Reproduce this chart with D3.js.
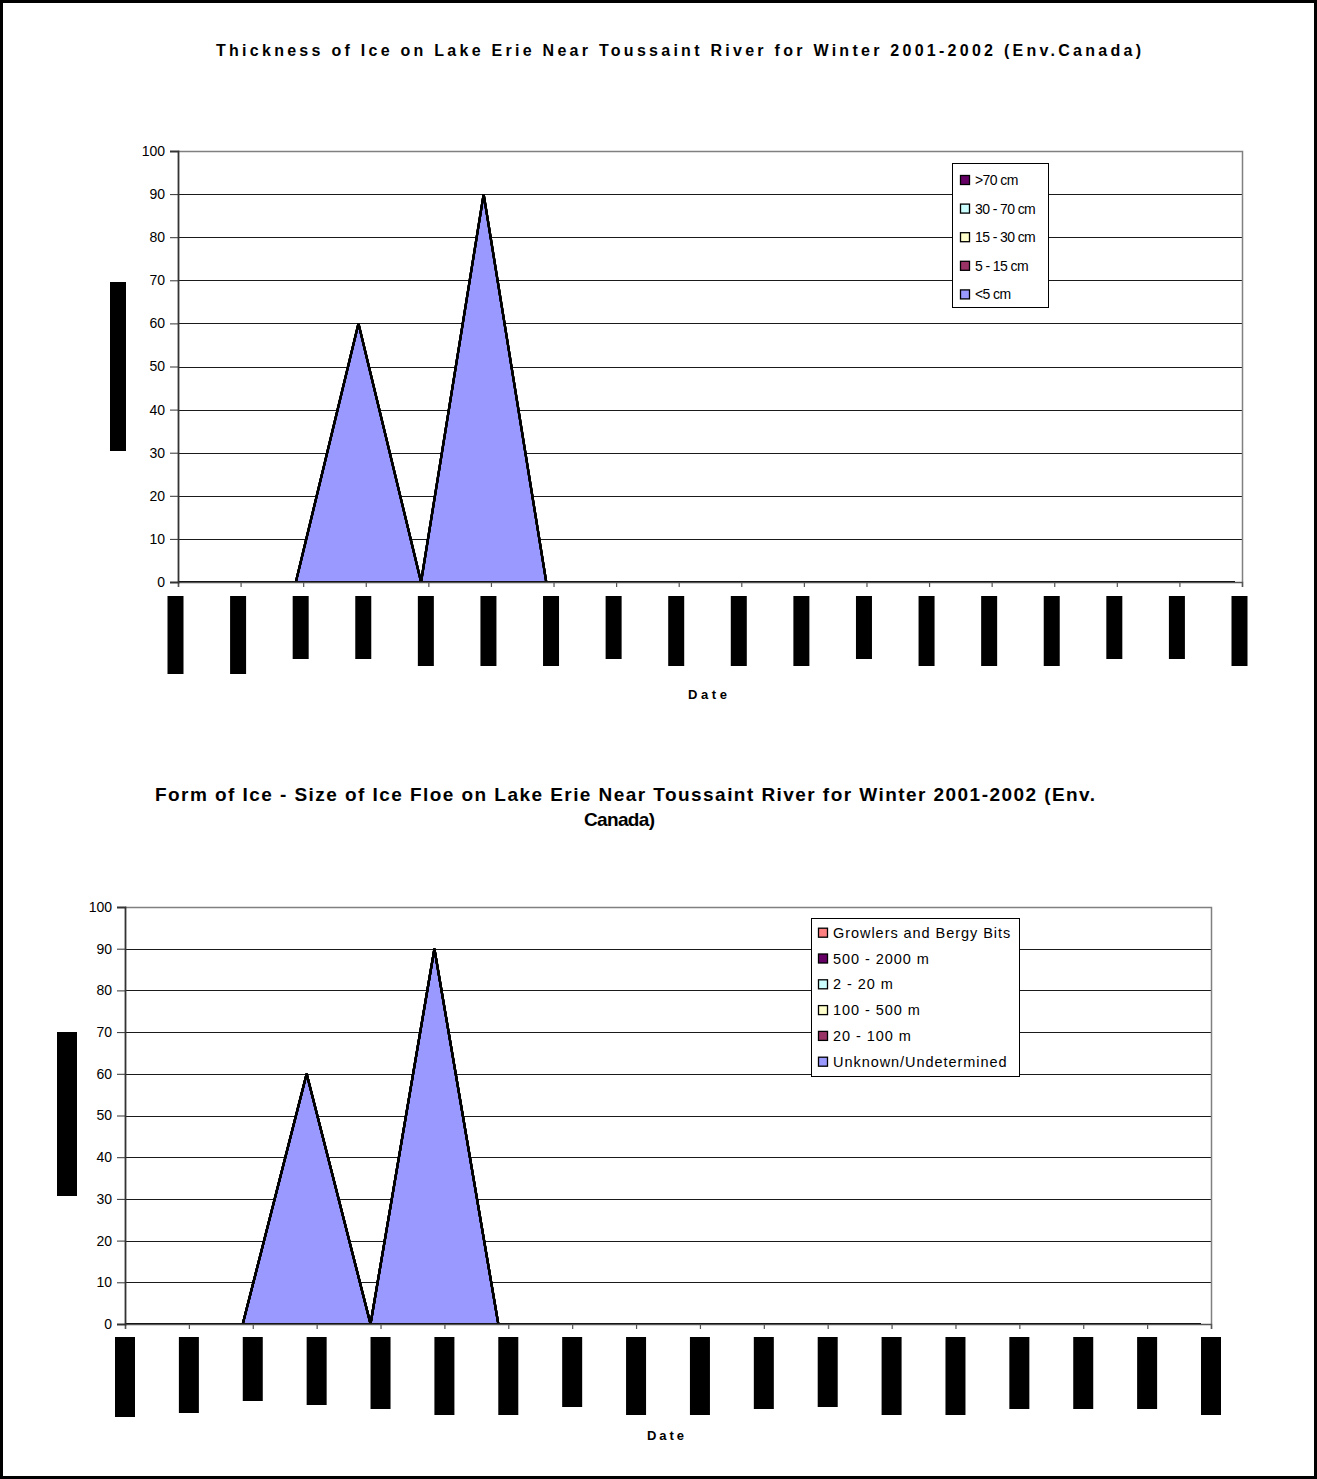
<!DOCTYPE html>
<html>
<head>
<meta charset="utf-8">
<script src="https://cdn.jsdelivr.net/npm/d3@7"></script>
<style>
  body { margin: 0; background: #fff; }
  svg { display: block; }
  text { font-family: "Liberation Sans", Arial, Helvetica, sans-serif; fill: #000; }
</style>
</head>
<body>
<svg id="page" width="1317" height="1479"></svg>
<script>
// ---------------- data ----------------
// 18 weekly observation dates (date labels are blanked out on the charts)
const observationIndex = [0,1,2,3,4,5,6,7,8,9,10,11,12,13,14,15,16,17];
const percentTicks = [0,10,20,30,40,50,60,70,80,90,100];

// Chart 1: ice thickness, stacked in series order (first = bottom)
const thicknessKeys = ["<5 cm", "5 - 15 cm", "15 - 30 cm", "30 - 70 cm", ">70 cm"];
const thicknessUnder5   = [0,0,0,60,0,90,0,0,0,0,0,0,0,0,0,0,0,0];
const thickness5to15    = [0,0,0,0,0,0,0,0,0,0,0,0,0,0,0,0,0,0];
const thickness15to30   = [0,0,0,0,0,0,0,0,0,0,0,0,0,0,0,0,0,0];
const thickness30to70   = [0,0,0,0,0,0,0,0,0,0,0,0,0,0,0,0,0,0];
const thicknessOver70   = [0,0,0,0,0,0,0,0,0,0,0,0,0,0,0,0,0,0];

// Chart 2: floe size, stacked in series order (first = bottom)
const floeKeys = ["Unknown/Undetermined", "20 - 100 m", "100 - 500 m", "2 - 20 m", "500 - 2000 m", "Growlers and Bergy Bits"];
const floeUnknown  = [0,0,0,60,0,90,0,0,0,0,0,0,0,0,0,0,0,0];
const floe20to100  = [0,0,0,0,0,0,0,0,0,0,0,0,0,0,0,0,0,0];
const floe100to500 = [0,0,0,0,0,0,0,0,0,0,0,0,0,0,0,0,0,0];
const floe2to20    = [0,0,0,0,0,0,0,0,0,0,0,0,0,0,0,0,0,0];
const floe500to2000= [0,0,0,0,0,0,0,0,0,0,0,0,0,0,0,0,0,0];
const floeGrowlers = [0,0,0,0,0,0,0,0,0,0,0,0,0,0,0,0,0,0];

const thicknessTitle = "Thickness of Ice on Lake Erie Near Toussaint River for Winter 2001-2002 (Env.Canada)";
const floeTitle1 = "Form of Ice - Size of Ice Floe on Lake Erie Near Toussaint River for Winter 2001-2002 (Env.";
const floeTitle2 = "Canada)";
const xTitle = "Date";

// ---------------- styles / layout ----------------
const seriesColor = {
  "<5 cm": "#9999FF", "5 - 15 cm": "#993366", "15 - 30 cm": "#FFFFCC",
  "30 - 70 cm": "#CCFFFF", ">70 cm": "#660066",
  "Unknown/Undetermined": "#9999FF", "20 - 100 m": "#993366", "100 - 500 m": "#FFFFCC",
  "2 - 20 m": "#CCFFFF", "500 - 2000 m": "#660066", "Growlers and Bergy Bits": "#FF8080"
};

// lower ends of the blanked date labels under each tick
const maskEnds1 = [674,674,659,659,666,666,666,659,666,666,666,659,666,666,666,659,659,666];
const maskEnds2 = [1417,1413,1401,1405,1409,1415,1415,1407,1415,1415,1409,1407,1415,1415,1409,1409,1409,1415];

const svg = d3.select("#page");
svg.append("rect").attr("width", 1317).attr("height", 1479).attr("fill", "#fff");

function buildRows(keys, arrays) {
  return observationIndex.map(i => {
    const row = { i };
    keys.forEach((k, j) => row[k] = arrays[j][i]);
    return row;
  });
}

function drawChart(cfg) {
  const g = svg.append("g");
  const x = d3.scalePoint().domain(observationIndex).range([cfg.left, cfg.right]);
  const y = d3.scaleLinear().domain([0, 100]).range([cfg.bottom, cfg.top]);
  const W = cfg.right - cfg.left, H = cfg.bottom - cfg.top;

  // gridlines
  g.append("g").selectAll("line").data(percentTicks.filter(t => t > 0 && t < 100)).join("line")
    .attr("x1", cfg.left).attr("x2", cfg.right)
    .attr("y1", d => Math.round(y(d)) + 0.5).attr("y2", d => Math.round(y(d)) + 0.5)
    .attr("stroke", "#1a1a1a").attr("stroke-width", 1);

  // plot area frame (top & right)
  g.append("path")
    .attr("d", `M${cfg.left},${Math.round(cfg.top)+0.5}H${cfg.right+0.5}V${cfg.bottom}`)
    .attr("fill", "none").attr("stroke", "#808080").attr("stroke-width", 1.5);

  // stacked areas
  const clipId = "clip" + cfg.id;
  svg.append("clipPath").attr("id", clipId).append("rect")
    .attr("x", cfg.left).attr("y", cfg.top - 5).attr("width", W).attr("height", H + 7);
  const stacked = d3.stack().keys(cfg.keys)(buildRows(cfg.keys, cfg.values));
  const area = d3.area()
    .x(d => x(d.data.i) + cfg.markShift)
    .y0(d => y(d[0])).y1(d => y(d[1]));
  g.append("g").attr("clip-path", `url(#${clipId})`)
    .selectAll("path").data(stacked).join("path")
    .attr("d", area)
    .attr("fill", d => seriesColor[d.key])
    .attr("stroke", "#000").attr("stroke-width", 2.2).attr("stroke-linejoin", "miter");

  // x axis (category ticks)
  const xAxis = g.append("g").attr("transform", `translate(0,${cfg.bottom})`)
    .call(d3.axisBottom(x).tickSize(5).tickFormat(""));
  xAxis.select(".domain").attr("stroke", "#555").attr("stroke-width", 1.5);
  xAxis.selectAll(".tick line").attr("stroke", "#555").attr("stroke-width", 1.2);

  // y axis
  const yAxis = g.append("g").attr("transform", `translate(${cfg.left},0)`)
    .call(d3.axisLeft(y).tickValues(percentTicks).tickSize(8).tickPadding(5));
  yAxis.select(".domain").attr("stroke", "#333").attr("stroke-width", 1.8);
  yAxis.selectAll(".tick line").attr("stroke", "#333").attr("stroke-width", 1);
  yAxis.selectAll(".tick text").attr("font-size", 14).attr("font-family", '"Liberation Sans", Arial, sans-serif').attr("fill", "#000");

  // blanked date labels
  g.append("g").selectAll("rect").data(observationIndex).join("rect")
    .attr("x", d => x(d) + cfg.maskShift - cfg.maskWidth / 2)
    .attr("y", cfg.maskTop)
    .attr("width", cfg.maskWidth)
    .attr("height", d => cfg.maskEnds[d] - cfg.maskTop)
    .attr("fill", "#000");

  // blanked y-axis title
  g.append("rect").attr("x", cfg.yTitle[0]).attr("y", cfg.yTitle[1])
    .attr("width", cfg.yTitle[2]).attr("height", cfg.yTitle[3]).attr("fill", "#000");

  // legend (last series on top)
  const lg = g.append("g");
  const lb = cfg.legend;
  lg.append("rect").attr("x", lb.x + 0.5).attr("y", lb.y + 0.5).attr("width", lb.w).attr("height", lb.h)
    .attr("fill", "#fff").attr("stroke", "#000").attr("stroke-width", 1);
  const legendKeys = cfg.keys.slice().reverse();
  const item = lg.selectAll("g").data(legendKeys).join("g")
    .attr("transform", (d, i) => `translate(0,${lb.firstY + i * lb.step})`);
  item.append("rect").attr("x", lb.swX + 0.5).attr("y", -4.5).attr("width", 9).attr("height", 9)
    .attr("fill", d => seriesColor[d]).attr("stroke", "#000").attr("stroke-width", 1.3);
  item.append("text").attr("x", lb.textX).attr("y", 5)
    .attr("font-size", lb.fontSize).attr("letter-spacing", lb.spacing)
    .text(d => d);

  return g;
}

drawChart({
  id: 1, left: 178, right: 1242, top: 151, bottom: 582, markShift: -7.3,
  keys: thicknessKeys,
  values: [thicknessUnder5, thickness5to15, thickness15to30, thickness30to70, thicknessOver70],
  maskTop: 596, maskWidth: 16, maskShift: -2.5, maskEnds: maskEnds1,
  yTitle: [110, 282, 16, 169],
  legend: { x: 952, y: 163, w: 96, h: 144, firstY: 180, step: 28.6, swX: 960, textX: 975, fontSize: 14, spacing: -0.6 }
});

drawChart({
  id: 2, left: 125, right: 1211, top: 907, bottom: 1324, markShift: -10,
  keys: floeKeys,
  values: [floeUnknown, floe20to100, floe100to500, floe2to20, floe500to2000, floeGrowlers],
  maskTop: 1337, maskWidth: 20, maskShift: 0, maskEnds: maskEnds2,
  yTitle: [57, 1032, 20, 164],
  legend: { x: 811, y: 918, w: 208, h: 158, firstY: 932.7, step: 25.8, swX: 818, textX: 833, fontSize: 14.5, spacing: 0.95 }
});

// titles
function fittedText(str, left, baseline, width, size) {
  svg.append("text").attr("x", left).attr("y", baseline)
    .attr("font-size", size).attr("font-weight", "bold")
    .attr("textLength", width).attr("lengthAdjust", "spacing")
    .text(str);
}
fittedText(thicknessTitle, 216, 56, 925, 16);
fittedText(xTitle, 688, 699, 39, 13);
fittedText(floeTitle1, 155, 801, 940, 19);
fittedText(floeTitle2, 584, 826, 71, 19);
fittedText(xTitle, 647, 1440, 37, 13);

// page frame
svg.append("path")
  .attr("d", "M1.5,1.5H1315.5V1477.5H1.5Z")
  .attr("fill", "none").attr("stroke", "#000").attr("stroke-width", 3);
</script>
</body>
</html>
